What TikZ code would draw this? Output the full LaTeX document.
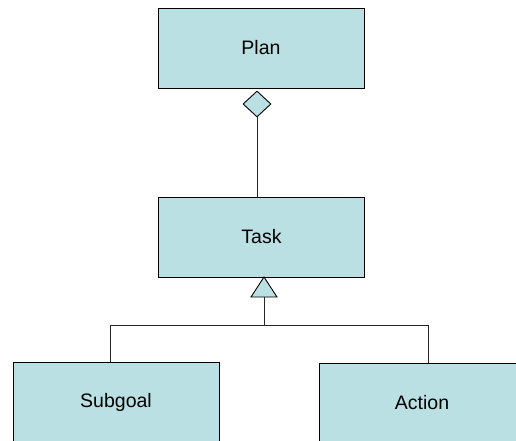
\documentclass[tikz,border=0pt]{standalone}
\usepackage{fontspec}
\setmainfont{Liberation Sans}
\usepackage{tikz}
\usetikzlibrary{shapes.geometric}
\definecolor{boxfill}{RGB}{187,224,227}

\begin{document}
\begin{tikzpicture}[x=1pt,y=-1pt,
  classbox/.style={draw=black,fill=boxfill,line width=0.9pt,minimum width=206pt,minimum height=80pt,inner sep=0pt,font=\fontsize{19.5}{23}\selectfont},
  link/.style={draw=black!85,line width=0.9pt}]

% page frame
\useasboundingbox (0,0) rectangle (516,441);
\clip (0,0) rectangle (516,441);

% classes
\node[classbox] (plan)    at (261,48)  {Plan};
\node[classbox] (task)    at (261.5,237) {Task};
\node[classbox] (subgoal) at (116,402) {Subgoal};
\node[classbox] (action)  at (422,403) {Action};

% aggregation: Plan <>-- Task
\node[diamond,draw=black,fill=boxfill,line width=0.9pt,inner sep=0pt,minimum width=28pt,minimum height=26pt] (agg) at (257,104) {};
\draw[link] (agg.south) -- (agg.south |- task.north);

% generalization: Subgoal, Action --|> Task
\coordinate (tip)  at (264,277);
\coordinate (base) at (264,297);
\filldraw[draw=black,fill=boxfill,line width=0.9pt] (tip) -- ++(-13,20) -- ++(26,0) -- cycle;
\coordinate (busL) at (110,325);
\coordinate (busR) at (428,325);
\draw[link] (base) -- (base |- busL);
\draw[link] (busL |- subgoal.north) -- (busL) -- (busR) -- (busR |- action.north);

\end{tikzpicture}
\end{document}
